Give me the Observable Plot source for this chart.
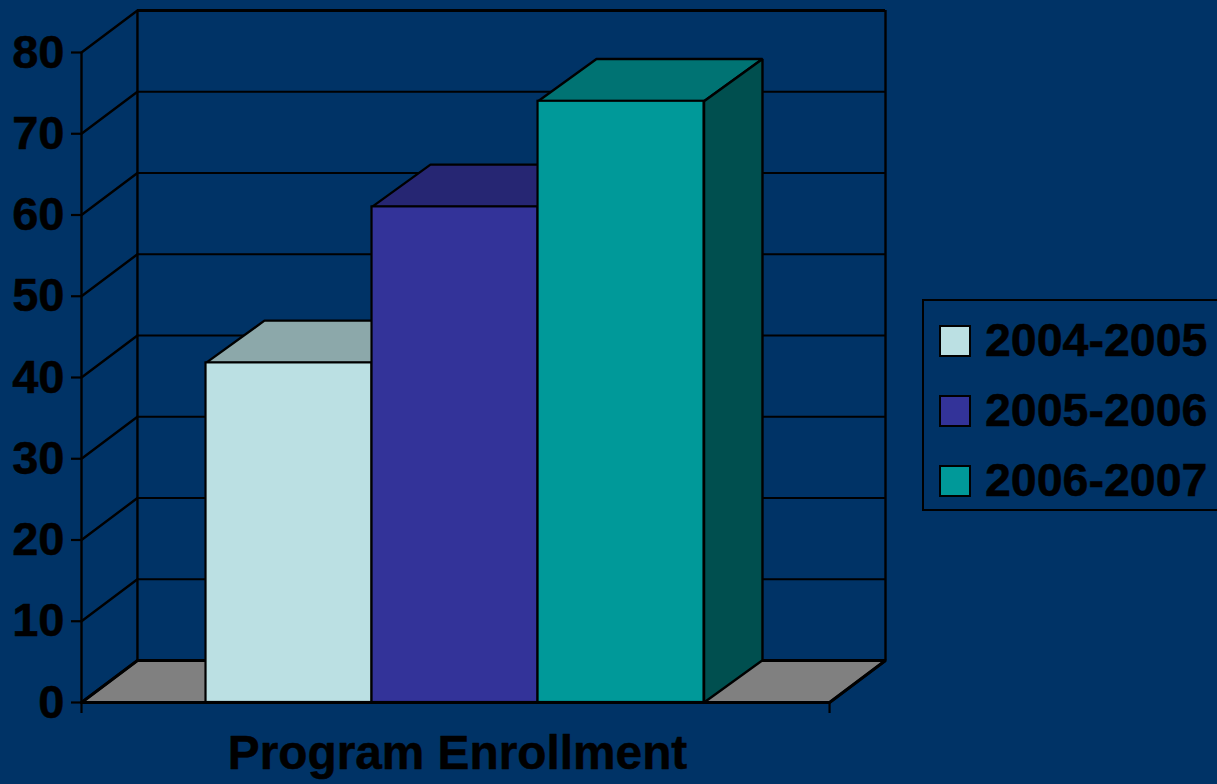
<!DOCTYPE html>
<html>
<head>
<meta charset="utf-8">
<script src="https://cdn.jsdelivr.net/npm/d3@7"></script>
<script src="https://cdn.jsdelivr.net/npm/@observablehq/plot@0.6"></script>
<style>
  html, body { margin: 0; padding: 0; background: #003366; overflow: hidden; }
  #chart { position: relative; width: 1217px; height: 784px; font-family: "Liberation Sans", Arial, sans-serif; }
  #chart svg { position: absolute; left: 0; top: 0; background: transparent; }
  #legend { position: absolute; left: 922px; top: 299px; width: 300px; height: 208px; border: 2px solid #000; box-sizing: content-box; }
  #legend .row { position: absolute; left: 15px; display: flex; align-items: center; height: 32px; }
  #legend .sw { width: 28px; height: 28px; border: 2px solid #000; margin-right: 14px; flex: none; }
  #legend .lb { font-size: 46.5px; font-weight: bold; color: #000; line-height: 32px; white-space: nowrap; -webkit-text-stroke: 0.5px #000; position: relative; top: -1px; }
</style>
</head>
<body>
<div id="chart"></div>
<script>
const years = ["2004-2005", "2005-2006", "2006-2007"];
const enrollment = [41.8, 61, 74];
const frontColors = ["#BBE0E3", "#333399", "#009999"];
const topColors = ["#8CA8AA", "#262673", "#007373"];
const sideColors = ["#5F7173", "#1A1A4D", "#004F4F"];
const yTicks = [0, 10, 20, 30, 40, 50, 60, 70, 80];
const axisTitle = "Program Enrollment";

// Chart-space extents: x is in bar widths, y in enrollment units.
const floorLength = 4.506, wallDx = 0.337, wallDy = 5.17, barDx = 0.352, barDy = 5.2, barStart = 0.75;

const rows = years.map((year, i) => ({
  year, value: enrollment[i], x1: barStart + i, x2: barStart + i + 1,
  front: frontColors[i], top: topColors[i], side: sideColors[i]
}));

const poly = (pts, opts) => Plot.line(pts, {x: "x", y: "y", stroke: "#000", strokeWidth: 2.4, curve: "linear", strokeLinejoin: "miter", ...opts});

const floor = [
  {x: 0, y: 0}, {x: wallDx, y: wallDy}, {x: floorLength + wallDx, y: wallDy},
  {x: floorLength, y: 0}, {x: 0, y: 0}
];

const barMarks = rows.flatMap(d => [
  poly([
    {x: d.x1, y: d.value}, {x: d.x1 + barDx, y: d.value + barDy},
    {x: d.x2 + barDx, y: d.value + barDy}, {x: d.x2, y: d.value}, {x: d.x1, y: d.value}
  ], {fill: d.top}),
  poly([
    {x: d.x2, y: 0}, {x: d.x2 + barDx, y: barDy},
    {x: d.x2 + barDx, y: d.value + barDy}, {x: d.x2, y: d.value}, {x: d.x2, y: 0}
  ], {fill: d.side}),
  Plot.rect([d], {x1: "x1", x2: "x2", y1: 0, y2: "value", fill: "front", stroke: "#000", strokeWidth: 2.2})
]);

const plot = Plot.plot({
  width: 1217,
  height: 784,
  marginLeft: 81,
  marginRight: 332,
  marginTop: 10,
  marginBottom: 82,
  style: {background: "transparent", fontFamily: "'Liberation Sans', Arial, sans-serif"},
  x: {domain: [0, floorLength + wallDx], axis: null},
  y: {domain: [0, 80 + wallDy], axis: null},
  marks: [
    poly(floor, {fill: "#808080", strokeWidth: 3}),
    // back wall grid
    Plot.ruleY(yTicks, {y: d => d + wallDy, x1: wallDx, x2: floorLength + wallDx, stroke: "#000", strokeWidth: 2}),
    Plot.ruleY([80], {y: d => d + wallDy, x1: wallDx, x2: floorLength + wallDx, stroke: "#000", strokeWidth: 2.8}),
    Plot.ruleX([wallDx, floorLength + wallDx], {y1: wallDy, y2: 80 + wallDy, stroke: "#000", strokeWidth: 2.4}),
    // side wall diagonals
    ...yTicks.map(v => poly([{x: 0, y: v}, {x: wallDx, y: v + wallDy}], {})),
    // right edge of floor
    poly([{x: floorLength, y: 0}, {x: floorLength + wallDx, y: wallDy}], {}),
    // front axes
    Plot.ruleX([0], {y1: 0, y2: 80, stroke: "#000", strokeWidth: 2.4}),
    ...barMarks,
    Plot.ruleY([0], {x1: 0, x2: floorLength, stroke: "#000", strokeWidth: 3}),
    Plot.axisY({
      ticks: yTicks, tickSize: 10, tickPadding: 7, tickFormat: d => String(d),
      stroke: "#000", fill: "#000", strokeWidth: 2.2,
      fontSize: 47, fontWeight: "bold", label: null,
      textStroke: "#000", textStrokeWidth: 0.5
    }),
    Plot.axisX({
      ticks: [0, floorLength], tickSize: 11, tickFormat: () => "", stroke: "#000", strokeWidth: 2.2, label: null
    }),
    Plot.text([axisTitle], {
      x: 2.265, y: 0, dy: 51, text: d => d, fill: "#000", stroke: "#000", strokeWidth: 0.5,
      fontSize: 47.8, fontWeight: "bold", textAnchor: "middle"
    })
  ]
});

const chart = document.getElementById("chart");
chart.appendChild(plot);

const legend = document.createElement("div");
legend.id = "legend";
years.forEach((year, i) => {
  const row = document.createElement("div");
  row.className = "row";
  row.style.top = (24 + i * 70) + "px";
  const sw = document.createElement("div");
  sw.className = "sw";
  sw.style.background = frontColors[i];
  const lb = document.createElement("div");
  lb.className = "lb";
  lb.textContent = year;
  row.append(sw, lb);
  legend.append(row);
});
chart.appendChild(legend);
</script>
</body>
</html>
